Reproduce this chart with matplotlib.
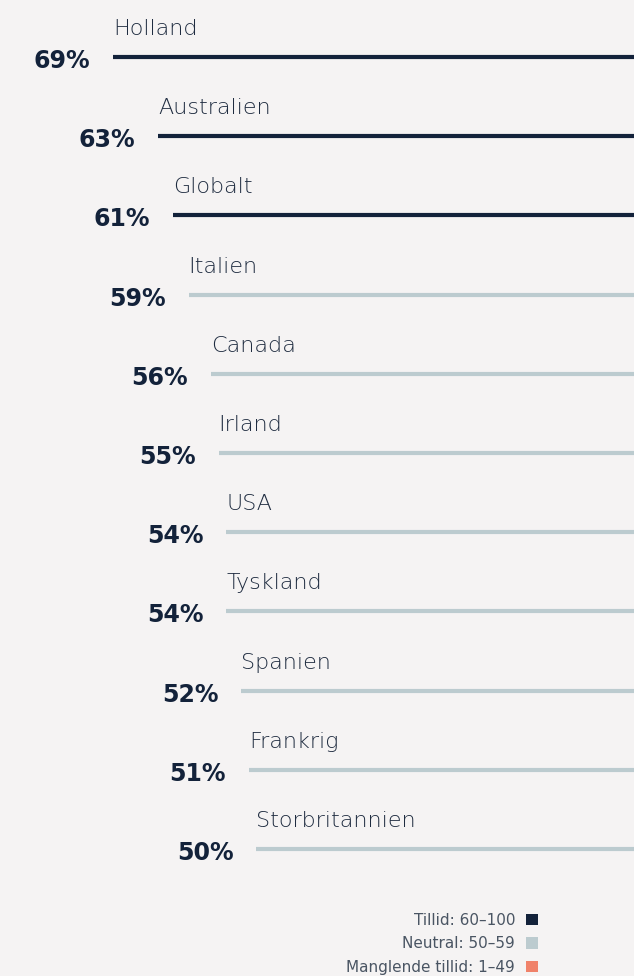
import matplotlib.pyplot as plt
from matplotlib.patches import Patch

# --- Data ---
countries = ["Holland", "Australien", "Globalt", "Italien", "Canada", "Irland",
             "USA", "Tyskland", "Spanien", "Frankrig", "Storbritannien"]
values = [69, 63, 61, 59, 56, 55, 54, 54, 52, 51, 50]
legend_labels = ["Tillid: 60\u2013100", "Neutral: 50\u201359", "Manglende tillid: 1\u201349"]

# --- Style ---
bg = "#f5f3f3"
dark = "#13223a"
neutral = "#bccbcf"
orange = "#f0826a"
label_grey = "#1f2c40"

def tier_color(v):
    if v >= 60:
        return dark
    if v >= 50:
        return neutral
    return orange

W, H = 634, 976
fig = plt.figure(figsize=(W / 100, H / 100), dpi=100, facecolor=bg)
ax = fig.add_axes([0, 0, 1, 1], facecolor=bg)

px_per_pct = 7.55
ax.set_xlim(W / px_per_pct, 0)
step = 79.2
ax.set_ylim(len(values) - 1 + (H - 849) / step, -57 / step)
ax.axis("off")

for i, (name, v) in enumerate(zip(countries, values)):
    ax.hlines(i, 0, v, color=tier_color(v), linewidth=3, capstyle="butt")
    ax.annotate(f"{v}%", xy=(v, i), xytext=(-23, -4), textcoords="offset pixels",
                ha="right", va="center", fontsize=17, fontweight="bold", color=dark)
    ax.annotate(name, xy=(v, i), xytext=(0, 22), textcoords="offset pixels",
                ha="left", va="baseline", fontsize=16, fontweight="light",
                color=label_grey)

handles = [Patch(facecolor=c, edgecolor="none") for c in (dark, neutral, orange)]
leg = fig.legend(handles, legend_labels, loc="lower right",
                 bbox_to_anchor=(538 / W, 1 / H), frameon=False, markerfirst=False,
                 fontsize=11, handlelength=0.78, handleheight=0.78,
                 handletextpad=0.72, labelspacing=0.57, borderpad=0, borderaxespad=0)
for t in leg.get_texts():
    t.set_color("#4a5563")

fig.savefig("out.png", dpi=100, facecolor=bg)
